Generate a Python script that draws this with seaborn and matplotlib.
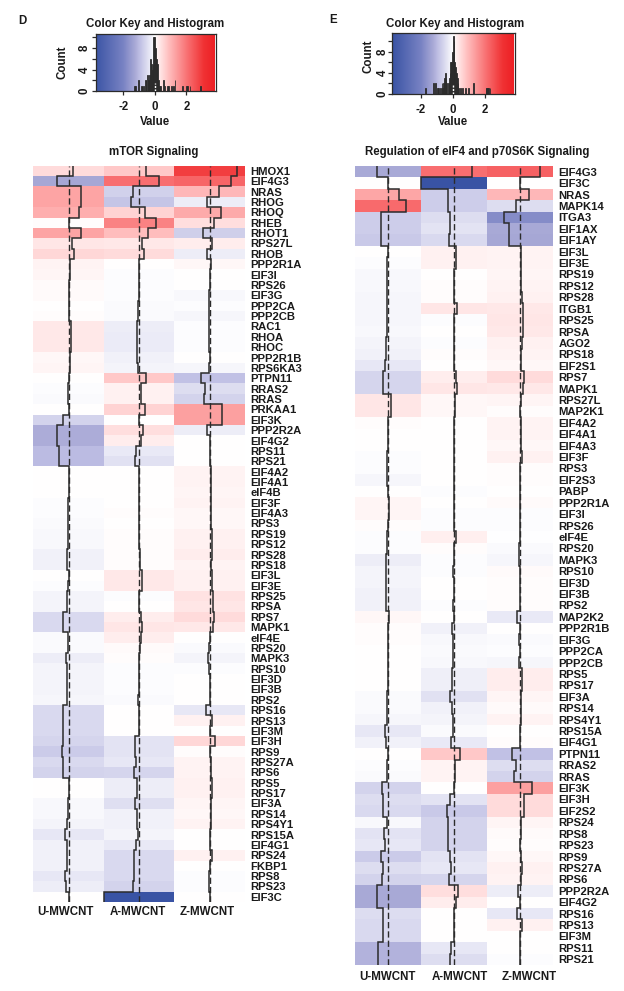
import matplotlib
matplotlib.use('Agg')
import matplotlib.pyplot as plt
from matplotlib.colors import LinearSegmentedColormap
import numpy as np
import pandas as pd
import seaborn as sns

plt.rcParams['font.family'] = ['Liberation Sans', 'DejaVu Sans']
plt.rcParams['font.weight'] = 'bold'

W, H = 624, 991
VMAX = 3.8
FS = 8.3
INK = '#2b2b2b'

# values (log2 fold change per gene)
left_genes = ['HMOX1','EIF4G3','NRAS','RHOG','RHOQ','RHEB','RHOT1','RPS27L','RHOB','PPP2R1A','EIF3I','RPS26',
    'EIF3G','PPP2CA','PPP2CB','RAC1','RHOA','RHOC','PPP2R1B','RPS6KA3','PTPN11','RRAS2','RRAS','PRKAA1','EIF3K',
    'PPP2R2A','EIF4G2','RPS11','RPS21','EIF4A2','EIF4A1','eIF4B','EIF3F','EIF4A3','RPS3','RPS19','RPS12','RPS28',
    'RPS18','EIF3L','EIF3E','RPS25','RPSA','RPS7','MAPK1','eIF4E','RPS20','MAPK3','RPS10','EIF3D','EIF3B','RPS2',
    'RPS16','RPS13','EIF3M','EIF3H','RPS9','RPS27A','RPS6','RPS5','RPS17','EIF3A','RPS14','RPS4Y1','RPS15A',
    'EIF4G1','RPS24','FKBP1','RPS8','RPS23','EIF3C']
left_u = [.5,-1.3,1.3,1.3,1.15,.03,1.3,.35,.55,.15,.12,.08,.08,.02,.03,.3,.3,.3,.1,.12,0,-.05,-.08,0,-.65,-1.2,
    -1.2,-1,-1,0,0,0,-.05,-.03,-.08,-.1,-.1,-.2,-.2,0,-.03,-.15,-.15,-.55,-.55,-.06,-.08,-.25,-.15,-.15,-.15,-.13,
    -.55,-.55,-.55,-.6,-.75,-.55,-.65,0,0,-.1,-.1,-.15,-.35,-.2,-.2,-.2,-.35,-.25,0]
left_a = [.75,2.1,-.68,-.86,.6,1.8,.9,.3,.5,0,-.03,-.05,-.05,-.08,-.08,-.25,-.28,-.28,-.2,-.15,.75,.2,.18,.6,0,.45,
    .25,-.3,-.42,0,0,0,0,.03,.02,.03,.03,.05,.05,.3,.3,-.03,0,.25,.35,.25,.08,.03,-.05,-.05,-.05,-.08,0,0,0,-.4,
    -.4,-.35,-.6,-.25,-.25,-.45,-.2,-.2,-.15,-.3,-.55,-.55,-.55,-.65,-3.8]
left_z = [2.9,2.25,1,-.25,1.2,.45,-.7,.25,-.25,.1,0,0,-.1,-.05,-.12,-.05,-.05,-.05,0,-.12,-.9,-.5,-.65,1.35,1.35,
    -.25,0,0,0,.15,.15,.12,.15,.1,.1,.2,.2,.25,.15,.2,.2,.4,.35,.5,.3,0,-.08,-.15,-.03,0,0,0,-.35,.2,0,.55,.05,
    .15,.15,.2,.2,.12,.1,.15,0,0,.2,0,-.03,-.03,0]

right_genes = ['EIF4G3','EIF3C','NRAS','MAPK14','ITGA3','EIF1AX','EIF1AY','EIF3L','EIF3E','RPS19','RPS12','RPS28',
    'ITGB1','RPS25','RPSA','AGO2','RPS18','EIF2S1','RPS7','MAPK1','RPS27L','MAP2K1','EIF4A2','EIF4A1','EIF4A3',
    'EIF3F','RPS3','EIF2S3','PABP','PPP2R1A','EIF3I','RPS26','eIF4E','RPS20','MAPK3','RPS10','EIF3D','EIF3B','RPS2',
    'MAP2K2','PPP2R1B','EIF3G','PPP2CA','PPP2CB','RPS5','RPS17','EIF3A','RPS14','RPS4Y1','RPS15A','EIF4G1','PTPN11',
    'RRAS2','RRAS','EIF3K','EIF3H','EIF2S2','RPS24','RPS8','RPS23','RPS9','RPS27A','RPS6','PPP2R2A','EIF4G2','RPS16',
    'RPS13','EIF3M','RPS11','RPS21']
right_u = [-1.27,0,1.27,2.15,-.73,-.73,-.8,0,-.05,-.1,-.1,-.12,-.12,-.12,-.1,-.15,-.2,-.35,-.6,-.6,.35,.35,.05,0,0,
    -.05,-.05,-.12,.02,.12,.12,.05,-.03,-.03,-.25,-.15,-.15,-.18,-.18,.1,.03,.05,.02,0,0,0,-.08,-.08,-.12,-.35,-.2,
    0,-.05,-.08,-.65,-.5,-.55,-.1,-.4,-.35,-.75,-.5,-.65,-1.25,-1.25,-.5,-.55,-.55,-1.1,-1.1]
right_a = [2.1,-3.8,-.73,-.73,-.5,-.4,-.55,.2,.2,.02,.03,.05,.35,-.03,0,-.03,.03,.02,.25,.35,.1,.1,0,0,0,0,0,0,-.03,
    0,-.03,-.03,.22,.03,-.03,-.05,0,0,-.05,0,-.2,-.1,-.08,-.1,-.22,-.22,-.42,-.18,-.15,-.08,-.3,.75,.15,.15,0,-.4,
    -.8,-.65,-.65,-.65,-.4,-.35,-.6,.45,.25,0,0,0,-.35,-.5]
right_z = [2.3,0,1,-.5,-1.8,-1.25,-1.3,.15,.15,.12,.15,.2,.3,.35,.3,.2,.15,.1,.5,.3,.12,.05,.15,.15,.1,.2,.05,.03,
    .02,.06,-.03,-.03,-.02,-.08,-.12,.06,.03,.03,.03,-.3,0,-.08,-.05,-.12,.25,.25,.12,.08,.15,0,.03,-.9,-.5,-.65,
    1.35,.5,.5,.12,.07,.03,.1,.2,.15,-.25,0,-.35,.2,0,0,-.03]

columns = ['U-MWCNT', 'A-MWCNT', 'Z-MWCNT']

# histogram in the colour key: bin position and count
left_hist_x = [-1.25,-1.2,-1,-.85,-.8,-.7,-.6,-.55,-.45,-.4,-.35,-.3,-.25,-.2,-.15,-.1,-.05,0,.05,.1,.15,.2,.25,.3,.4,
    .55,.65,.8,.9,1.05,1.2,1.3,1.75,2.05,2.1,2.25,2.9]
left_hist_n = [1,1,2,1,1,1,2,2,3,2,2,3,6,5,4,5,10,10,8,6,5,5,2,1,1,2,1,1,1,1,1,2,1,1,1,1,1]
right_hist_x = [-1.75,-1.25,-1.1,-1,-.9,-.8,-.7,-.65,-.6,-.55,-.5,-.45,-.4,-.3,-.25,-.2,-.15,-.1,-.05,0,.05,.1,.15,.2,
    .25,.3,.35,.45,.6,.75,.95,1.25,2.05,2.1,2.15,2.2,2.3]
right_hist_n = [1,2,2,1,1,1,2,1,2,3,4,3,2,2,3,4,6,6,8,11,10,6,5,4,3,2,1,1,1,1,1,2,1,1,1,1,1]

# colour key sampled along the reference gradient
key_values = [-3.8, -2, -1.2, -1, -.5, 0, .9, 2.1, 3.1, 3.8]
key_colors = ['#3953a4', '#7882c3', '#acacd8', '#bbbbe2', '#dcdcf0', '#ffffff', '#ffbebe', '#f86e70', '#f03234', '#ed1f24']
cmap = LinearSegmentedColormap.from_list('key', [((v + VMAX) / (2 * VMAX), c) for v, c in zip(key_values, key_colors)])


def px_axes(fig, x0, y0, x1, y1):
    # axes from pixel box, y measured from the top of the image
    return fig.add_axes([x0 / W, 1 - y1 / H, (x1 - x0) / W, (y1 - y0) / H])


def put(fig, x, y, s, **kw):
    kw.setdefault('fontsize', FS)
    kw.setdefault('color', '#1a1a1a')
    fig.text(x / W, 1 - y / H, s, ha='center', va='center', **kw)


def draw_key(fig, box, xlim, ytop, hist_x, hist_n):
    ax = px_axes(fig, *box)
    grad = np.linspace(-VMAX, VMAX, 256).reshape(1, -1)
    ax.imshow(grad, cmap=cmap, vmin=-VMAX, vmax=VMAX, aspect='auto', extent=[-VMAX, VMAX, 0, ytop], zorder=0)
    sns.histplot(x=hist_x, weights=hist_n, bins=153, binrange=(-3.825, 3.825), element='bars', color=INK, alpha=0.95,
                 edgecolor=INK, linewidth=0.6, ax=ax, zorder=2)
    ax.vlines(0, 0, 1.6, color='white', lw=1.0, linestyles=(0, (1.5, 1)), zorder=3)
    ax.set_xlim(*xlim)
    ax.set_ylim(0, ytop)
    ax.set_xlabel('')
    ax.set_ylabel('')
    ax.set_xticks([-2, 0, 2])
    ax.set_xticklabels([])
    ax.set_yticks([0, 2, 4, 6, 8, 10])
    ax.set_yticklabels([])
    ax.tick_params(length=3, width=0.9, color=INK, bottom=True, left=True)
    for sp in ax.spines.values():
        sp.set_linewidth(0.9)
        sp.set_color(INK)
    return ax


def draw_heat(fig, box, genes, u, a, z):
    ax = px_axes(fig, *box)
    df = pd.DataFrame({'U-MWCNT': u, 'A-MWCNT': a, 'Z-MWCNT': z}, index=genes)
    sns.heatmap(df, cmap=cmap, vmin=-VMAX, vmax=VMAX, cbar=False, ax=ax, yticklabels=True, xticklabels=False)
    ax.set_ylabel('')
    ax.yaxis.tick_right()
    ax.tick_params(axis='y', length=0, pad=4, labelrotation=0, labelsize=FS - 0.2, labelcolor='#1a1a1a')
    edges = np.arange(len(genes) + 1)
    for i, col in enumerate(columns):
        mid = i + 0.5
        ax.axvline(mid, color=INK, lw=1.0, linestyle=(0, (4.5, 2.2)), zorder=3)
        ax.stairs(mid + df[col].values / (2 * VMAX), edges, orientation='horizontal', baseline=None,
                  color=INK, lw=1.1, zorder=4)
    ax.set_xlim(0, 3)
    ax.set_ylim(len(genes), 0)
    return ax


sns.set_style('white')
plt.rcParams['font.family'] = ['Liberation Sans', 'DejaVu Sans']
plt.rcParams['font.weight'] = 'bold'

fig = plt.figure(figsize=(W / 100, H / 100), dpi=100)

# panel D
draw_key(fig, (96.3, 34, 216, 91.3), (-3.7, 3.9), 10.6, left_hist_x, left_hist_n)
draw_heat(fig, (33.3, 165.7, 245, 902), left_genes, left_u, left_a, left_z)
put(fig, 22, 21, 'D')
put(fig, 155, 24, 'Color Key and Histogram')
put(fig, 154, 152, 'mTOR Signaling')
put(fig, 155, 122, 'Value')
put(fig, 63, 62, 'Count', rotation=90)
for v, x in zip(['-2', '0', '2'], [124, 155, 187]):
    put(fig, x, 107, v)
for v, y in zip(['0', '4', '8'], [91, 70, 48]):
    put(fig, 85, y, v, rotation=90)
for s, x in zip(columns, [65, 138, 207]):
    put(fig, x, 912, s)

# panel E
draw_key(fig, (391.7, 32.7, 514.7, 93.7), (-3.84, 3.84), 11.6, right_hist_x, right_hist_n)
draw_heat(fig, (354.7, 166, 553, 965), right_genes, right_u, right_a, right_z)
put(fig, 333, 20, 'E')
put(fig, 455.5, 24, 'Color Key and Histogram')
put(fig, 477, 152, 'Regulation of eIF4 and p70S6K Signaling')
put(fig, 453, 122, 'Value')
put(fig, 369, 56, 'Count', rotation=90)
for v, x in zip(['-2', '0', '2'], [421, 453, 485]):
    put(fig, x, 110, v)
for v, y in zip(['0', '4', '8'], [94, 73, 52]):
    put(fig, 382.7, y, v, rotation=90)
for s, x in zip(columns, [387, 460, 529]):
    put(fig, x, 977, s)

fig.savefig('out.png', dpi=100)
